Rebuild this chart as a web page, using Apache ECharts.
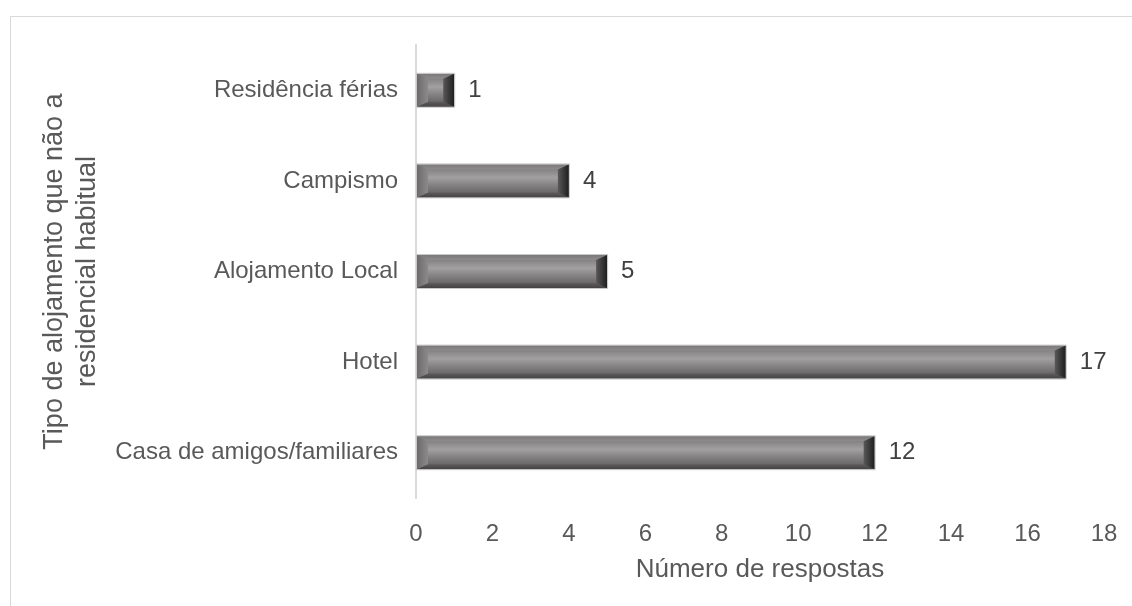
<!DOCTYPE html>
<html>
<head>
<meta charset="utf-8">
<script src="https://cdn.jsdelivr.net/npm/echarts@6/dist/echarts.min.js"></script>
<style>
html,body{margin:0;padding:0;background:#fff;}
#chart{width:1132px;height:606px;}
</style>
</head>
<body>
<div id="chart"></div>
<script>
const categories = ["Casa de amigos/familiares", "Hotel", "Alojamento Local", "Campismo", "Residência férias"];
const values = [12, 17, 5, 4, 1];
const xTicks = [0, 2, 4, 6, 8, 10, 12, 14, 16, 18];

const chart = echarts.init(document.getElementById('chart'), null, {renderer: 'canvas'});
const FONT = 'Liberation Sans, Arial, sans-serif';
const BAR_H = 33;

function bevel(params, api) {
  const idx = api.value(1);
  const v = api.value(0);
  const p0 = api.coord([0, idx]);
  const p1 = api.coord([v, idx]);
  const x0 = p0[0] + 1, x1 = p1[0];
  const y0 = p0[1] - BAR_H / 2, y1 = p0[1] + BAR_H / 2;
  const s = Math.min(11, (x1 - x0) / 2.5), t = 5;
  return {
    type: 'group',
    children: [
      {type: 'polygon', shape: {points: [[x0, y0], [x1, y0], [x1 - s, y0 + t], [x0 + s, y0 + t]]},
        style: {fill: {type: 'linear', x: 0, y: 0, x2: 0, y2: 1, colorStops: [{offset: 0, color: '#7a7878'}, {offset: 1, color: '#8e8c8c'}]}}},
      {type: 'polygon', shape: {points: [[x0, y1], [x1, y1], [x1 - s, y1 - t], [x0 + s, y1 - t]]},
        style: {fill: {type: 'linear', x: 0, y: 0, x2: 0, y2: 1, colorStops: [{offset: 0, color: '#5e5c5c'}, {offset: 1, color: '#444242'}]}}},
      {type: 'polygon', shape: {points: [[x0, y0], [x0 + s, y0 + t], [x0 + s, y1 - t], [x0, y1]]},
        style: {fill: {type: 'linear', x: 0, y: 0, x2: 1, y2: 0, colorStops: [{offset: 0, color: '#6c6a6a'}, {offset: 1, color: '#8c8a8a'}]}}},
      {type: 'polygon', shape: {points: [[x1, y0], [x1 - s, y0 + t], [x1 - s, y1 - t], [x1, y1]]},
        style: {fill: {type: 'linear', x: 0, y: 0, x2: 1, y2: 0, colorStops: [{offset: 0, color: '#5a5858'}, {offset: 1, color: '#1e1e1e'}]}}},
      {type: 'rect', shape: {x: x0 - 0.5, y: y0 - 0.5, width: x1 - x0 + 1, height: BAR_H + 1},
        style: {fill: null, stroke: '#c8c8c8', lineWidth: 1}}
    ]
  };
}

const option = {
  backgroundColor: '#ffffff',
  animation: false,
  graphic: [{
    type: 'rect', shape: {x: 10.5, y: 16.5, width: 1200, height: 700},
    style: {fill: null, stroke: '#d9d9d9', lineWidth: 1}, silent: true, z: -1
  }],
  grid: {left: 416, right: 28, top: 45, bottom: 108},
  xAxis: {
    type: 'value', min: 0, max: 18, interval: 2,
    axisLine: {show: false}, axisTick: {show: false}, splitLine: {show: false},
    axisLabel: {color: '#595959', fontSize: 24, fontFamily: FONT, margin: 24,
      formatter: v => xTicks.indexOf(v) >= 0 ? String(v) : ''},
    name: 'Número de respostas', nameLocation: 'middle', nameGap: 59,
    nameTextStyle: {color: '#595959', fontSize: 26, fontFamily: FONT}
  },
  yAxis: {
    type: 'category', data: categories,
    axisLine: {show: true, lineStyle: {color: '#d9d9d9', width: 2}},
    axisTick: {show: false},
    axisLabel: {color: '#595959', fontSize: 24, fontFamily: FONT, margin: 18},
    name: 'Tipo de alojamento que não a\nresidencial habitual', nameLocation: 'middle', nameRotate: 90, nameGap: 305,
    nameTextStyle: {color: '#595959', fontSize: 27, fontFamily: FONT, lineHeight: 33}
  },
  series: [{
    type: 'bar', data: values, barWidth: BAR_H,
    itemStyle: {
      color: {type: 'linear', x: 0, y: 0, x2: 0, y2: 1, colorStops: [
        {offset: 0, color: '#6e6c6c'}, {offset: 0.2, color: '#8a8888'}, {offset: 0.4, color: '#a2a0a0'},
        {offset: 0.6, color: '#878585'}, {offset: 0.85, color: '#6a6868'}, {offset: 1, color: '#4e4c4c'}]}
    },
    label: {show: true, position: 'right', distance: 14, color: '#404040', fontSize: 24, fontFamily: FONT}
  }, {
    type: 'custom', renderItem: bevel, z: 3,
    encode: {x: 0, y: 1},
    data: values.map((v, i) => [v, i])
  }]
};
chart.setOption(option);
</script>
</body>
</html>
